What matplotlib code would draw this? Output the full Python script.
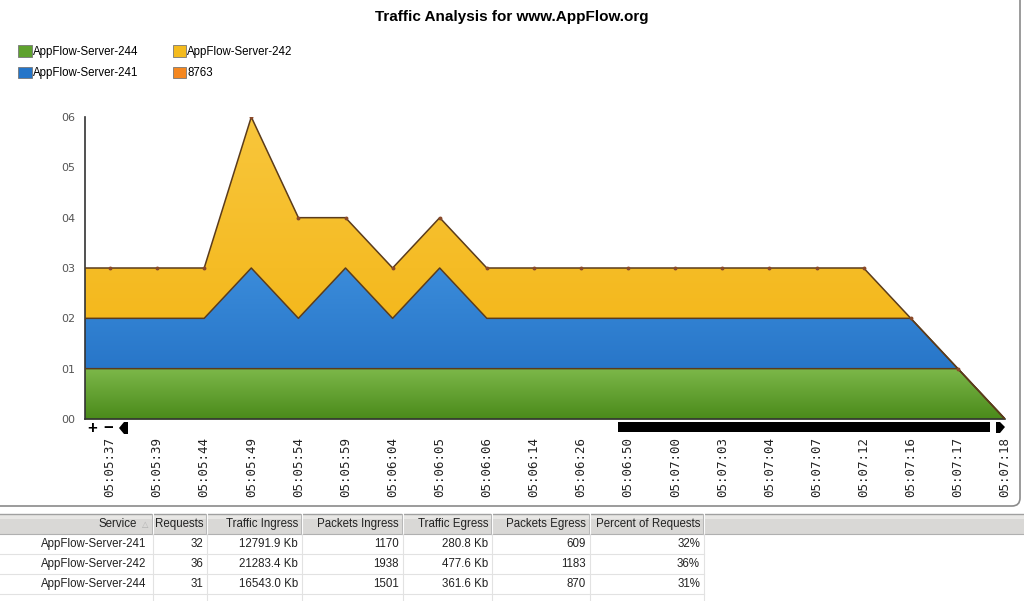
import matplotlib
matplotlib.use("Agg")
import matplotlib.pyplot as plt
from matplotlib.patches import Rectangle, FancyBboxPatch, Patch, Polygon
import numpy as np

plt.rcParams["font.family"] = ["Liberation Sans", "DejaVu Sans"]

# ---- data ----
times = ["05:05:37", "05:05:39", "05:05:44", "05:05:49", "05:05:54", "05:05:59",
         "05:06:04", "05:06:05", "05:06:06", "05:06:14", "05:06:26", "05:06:50",
         "05:07:00", "05:07:03", "05:07:04", "05:07:07", "05:07:12", "05:07:16",
         "05:07:17", "05:07:18"]
srv244 = [1, 1, 1, 1, 1, 1, 1, 1, 1, 1, 1, 1, 1, 1, 1, 1, 1, 1, 1, 0]
srv241 = [1, 1, 1, 2, 1, 2, 1, 2, 1, 1, 1, 1, 1, 1, 1, 1, 1, 1, 0, 0]
srv242 = [1, 1, 1, 3, 2, 1, 1, 1, 1, 1, 1, 1, 1, 1, 1, 1, 1, 0, 0, 0]
yticks = [0, 1, 2, 3, 4, 5, 6]

legend_names = ["AppFlow-Server-244", "AppFlow-Server-241", "AppFlow-Server-242", "8763"]
legend_colors = ["#5fa22e", "#2475c9", "#f4bb1e", "#f5871f"]

table_cols = ["Service", "Requests", "Traffic Ingress", "Packets Ingress",
              "Traffic Egress", "Packets Egress", "Percent of Requests"]
table_rows = [
    ["AppFlow-Server-241", "32", "12791.9 Kb", "1170", "280.8 Kb", "609", "32%"],
    ["AppFlow-Server-242", "36", "21283.4 Kb", "1938", "477.6 Kb", "1183", "36%"],
    ["AppFlow-Server-244", "31", "16543.0 Kb", "1501", "361.6 Kb", "870", "31%"],
]

W, H = 1024, 601
fig = plt.figure(figsize=(W / 100, H / 100), dpi=100)
fig.patch.set_facecolor("white")

# pixel-space overlay for panel frame, controls and the table
ov = fig.add_axes([0, 0, 1, 1], zorder=0)
ov.set_xlim(0, W)
ov.set_ylim(H, 0)
ov.axis("off")

ov.add_patch(FancyBboxPatch((-8, -10), W + 4, 516, boxstyle="round,pad=0,rounding_size=8",
                            fc="white", ec="#8a8a8a", lw=1.2))

# chart area
ax = fig.add_axes([85 / W, 1 - 419 / H, 920 / W, 302 / H], zorder=2)
ax.set_facecolor("none")
x = np.arange(len(times))
left = -0.53
xx = np.concatenate([[left], x])
g = np.array(srv244, float)
b = g + np.array(srv241)
y = b + np.array(srv242)
ext = lambda a: np.concatenate([[a[0]], a])
edge = "#5b3c1c"

def gradient_fill(lo, hi, c_top, c_bot):
    poly = ax.fill_between(xx, ext(lo), ext(hi), color=c_top, lw=0)
    img = np.linspace(0, 1, 256).reshape(-1, 1)
    cmap = matplotlib.colors.LinearSegmentedColormap.from_list("g", [c_bot, c_top])
    im = ax.imshow(img, cmap=cmap, aspect="auto", origin="lower",
                   extent=[left, x[-1], lo.min(), hi.max()], zorder=poly.get_zorder() + 0.1)
    im.set_clip_path(poly.get_paths()[0], transform=ax.transData)

gradient_fill(np.zeros_like(g), g, "#7db84a", "#4a8a1a")
gradient_fill(g, b, "#3b8cda", "#1e6bc0")
gradient_fill(b, y, "#f8c63c", "#f2b20e")
for line in (g, b, y):
    ax.plot(xx, ext(line), color=edge, lw=1.1, zorder=5)
ax.plot(x[:-1], y[:-1], "o", color="#8a4a2a", ms=1.8, zorder=6)

ax.set_xlim(left, x[-1])
ax.set_ylim(0, 6)
ax.set_yticks(yticks)
ax.set_yticklabels([f"{v:02d}" for v in yticks], color="#555555", fontsize=8,
                   family="DejaVu Sans")
ax.set_xticks(x)
ax.set_xticklabels(times, rotation=90, fontsize=9, family="DejaVu Sans Mono",
                   color="#222222", va="top")
ax.tick_params(axis="both", length=0)
ax.tick_params(axis="x", pad=13)
ax.tick_params(axis="y", pad=7)
for s in ("top", "right"):
    ax.spines[s].set_visible(False)
for s in ("left", "bottom"):
    ax.spines[s].set_color("#333333")
    ax.spines[s].set_linewidth(1.2)

# title and legend
fig.text(512 / W, 1 - 17 / H, "Traffic Analysis for www.AppFlow.org", ha="center",
         va="center", fontsize=11, fontweight="bold")
handles = [Patch(fc=c, ec="#777777", lw=0.6) for c in legend_colors]
fig.legend(handles, legend_names, ncol=2, loc="upper left", bbox_to_anchor=(8 / W, 1 - 35 / H),
           frameon=False, fontsize=8.3, handlelength=1.15, handleheight=1.15,
           handletextpad=0.1, columnspacing=3.0, labelspacing=0.75)

# zoom controls and scrollbar
ov.text(87, 428, "+", fontsize=12, fontweight="bold", va="center", ha="left")
ov.text(103, 428, "\u2212", fontsize=12, fontweight="bold", va="center", ha="left")
ov.add_patch(Polygon([[119, 428], [124, 422], [128, 422], [128, 434], [124, 434]], fc="black"))
ov.add_patch(Rectangle((618, 422), 372, 10, fc="black"))
ov.add_patch(Polygon([[996, 422], [1000, 422], [1005, 427], [1000, 433], [996, 433]], fc="black"))

# table
col_edges = [0, 153, 207, 302, 403, 492, 590, 704, W]
hdr_top, hdr_bot = 514, 534
row_h = 20
ov.add_patch(Rectangle((0, hdr_top), W, hdr_bot - hdr_top, fc="#d9d8d6", ec="none"))
ov.add_patch(Rectangle((0, hdr_top), W, 5, fc="#e8e7e5", ec="none"))
ov.plot([0, W], [hdr_top, hdr_top], color="#a0a0a0", lw=1)
ov.plot([0, W], [hdr_bot, hdr_bot], color="#b0b0b0", lw=0.8)
for i in range(len(table_rows) + 1):
    yy = hdr_bot + (i + 1) * row_h
    ov.plot([0, 704], [yy, yy], color="#e2e2e2", lw=0.8)
for xe in col_edges[1:-1]:
    ov.plot([xe, xe], [hdr_top, hdr_bot], color="#ffffff", lw=1.5)
    ov.plot([xe - 1, xe - 1], [hdr_top, hdr_bot], color="#b8b8b8", lw=0.8)
    ov.plot([xe, xe], [hdr_bot, H], color="#e2e2e2", lw=0.8)
for j, name in enumerate(table_cols):
    xr = col_edges[j + 1] - (16 if j == 0 else 4)
    ov.text(xr, (hdr_top + hdr_bot) / 2, name, ha="right", va="center", fontsize=8.3,
            color="#222222")
ov.text(col_edges[1] - 5, (hdr_top + hdr_bot) / 2, "\u25b3", ha="right", va="center",
        fontsize=6, color="#b0b0b0", family="DejaVu Sans")
for i, row in enumerate(table_rows):
    yc = hdr_bot + i * row_h + row_h / 2
    for j, val in enumerate(row):
        ov.text(col_edges[j + 1] - (7 if j == 0 else 4), yc, val, ha="right",
                va="center", fontsize=8.3, color="#222222")

fig.savefig("out.png", dpi=100)
